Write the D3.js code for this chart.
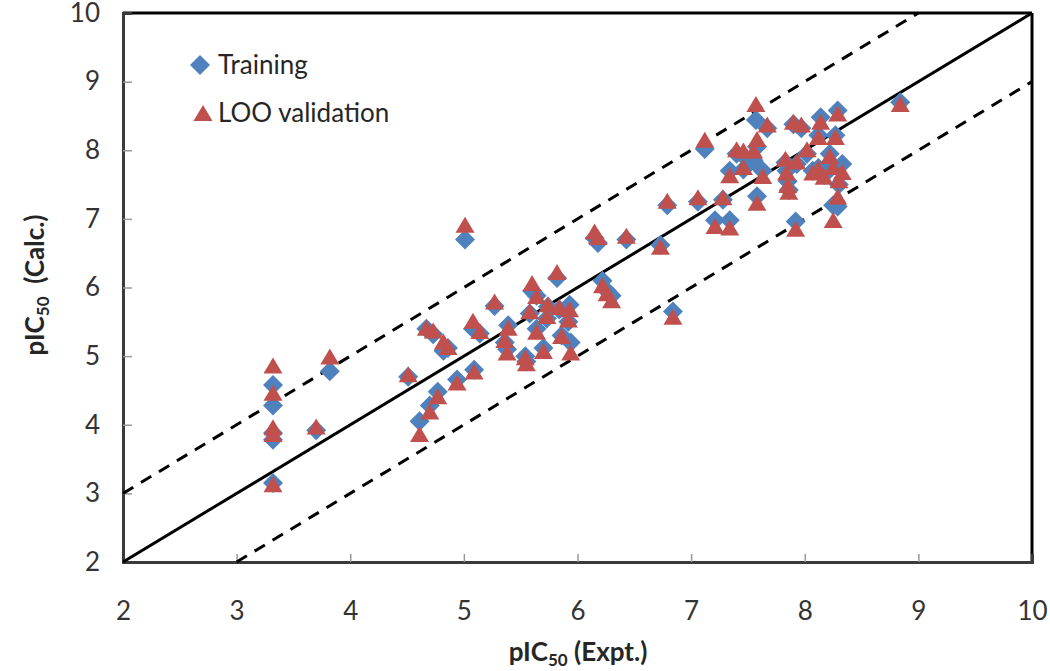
<!DOCTYPE html>
<html><head><meta charset="utf-8">
<script src="https://cdn.jsdelivr.net/npm/d3@7"></script>
<style>
html,body{margin:0;padding:0;background:#fff;}
svg{display:block;font-family:Lato,"Open Sans",sans-serif;}
</style></head>
<body><svg id="chart" width="1050" height="671"></svg>
<script>
// Experimental pIC50 per compound
const expt = [3.32,3.32,3.32,3.32,3.32,3.70,3.82,4.51,4.61,4.70,4.77,4.94,5.09,4.67,4.73,4.82,4.86,5.01,5.08,5.14,
5.27,5.39,5.36,5.38,5.54,5.55,5.58,5.60,5.64,5.64,5.70,5.73,5.74,5.82,5.84,5.86,5.93,5.92,5.94,6.15,
6.18,6.22,6.30,6.26,6.43,6.73,6.79,6.84,7.06,7.12,7.21,7.34,7.28,7.34,7.40,7.46,7.46,7.55,7.57,7.58,
7.67,7.63,7.58,7.83,7.84,7.85,7.86,7.90,7.97,7.92,7.93,8.02,8.14,8.12,8.07,8.12,8.17,8.22,8.29,8.27,
8.25,8.33,8.30,8.29,8.25,8.84];
// Training-set calculated pIC50
const training = [4.58,4.28,3.78,3.88,3.15,3.92,4.78,4.70,4.05,4.28,4.48,4.66,4.80,5.40,5.32,5.08,5.12,6.70,5.40,5.33,
5.73,5.45,5.20,5.10,5.00,4.92,5.62,5.95,5.88,5.40,5.12,5.55,5.72,6.14,5.68,5.30,5.75,5.50,5.20,6.72,
6.65,6.10,5.88,5.95,6.70,6.62,7.20,5.65,7.25,8.02,6.98,6.98,7.28,7.70,7.95,7.92,7.72,7.85,8.44,8.05,
8.32,7.70,7.33,7.82,7.70,7.55,7.42,8.38,8.32,6.96,7.80,7.95,8.48,8.22,7.70,7.74,7.64,7.95,8.58,8.22,
7.78,7.80,7.50,7.18,7.20,8.70];
// Leave-one-out validation pIC50
const loo = [4.85,4.45,3.95,3.85,3.12,3.96,4.98,4.72,3.85,4.18,4.40,4.60,4.76,5.40,5.36,5.20,5.12,6.90,5.50,5.35,
5.78,5.40,5.22,5.04,4.97,4.88,5.64,6.05,5.86,5.34,5.06,5.57,5.74,6.21,5.70,5.28,5.67,5.52,5.04,6.80,
6.72,6.02,5.80,5.90,6.74,6.58,7.25,5.56,7.30,8.14,6.88,6.86,7.30,7.62,8.00,7.98,7.74,7.98,8.66,8.15,
8.36,7.61,7.22,7.86,7.66,7.48,7.38,8.40,8.36,6.84,7.82,8.00,8.40,8.18,7.66,7.72,7.60,7.90,8.52,8.18,
7.74,7.67,7.55,7.31,6.97,8.66];
const ticks = [2,3,4,5,6,7,8,9,10];
const identityLine = [[2,2],[10,10]];
const upperBand = [[2,3],[9,10]];
const lowerBand = [[3,2],[10,9]];
const legendLabels = ["Training","LOO validation"];

const svg = d3.select("#chart");
const x = d3.scaleLinear().domain([2,10]).range([123,1032]);
const y = d3.scaleLinear().domain([2,10]).range([562,13]);
const blue = "#4F81BD", red = "#C0504D";

// frame: top & right
svg.append("line").attr("x1",x(2)).attr("x2",x(10)).attr("y1",y(10)).attr("y2",y(10)).attr("stroke","#000").attr("stroke-width",3);
svg.append("line").attr("x1",x(10)).attr("x2",x(10)).attr("y1",y(10)).attr("y2",y(2)).attr("stroke","#000").attr("stroke-width",3);

// axes
const xAxis = d3.axisBottom(x).tickValues(ticks).tickSize(-8).tickPadding(40).tickFormat(d3.format("d"));
const gx = svg.append("g").attr("transform",`translate(0,${y(2)})`).call(xAxis);
gx.select(".domain").attr("stroke","#3a3a3a").attr("stroke-width",3);
gx.selectAll(".tick line").attr("stroke","#999").attr("stroke-width",1.5);
gx.selectAll(".tick text").attr("font-size",26).attr("fill","#333").attr("font-family","Lato");

const yAxis = d3.axisLeft(y).tickValues(ticks).tickSize(-9).tickPadding(23).tickFormat(d3.format("d"));
const gy = svg.append("g").attr("transform",`translate(${x(2)},0)`).call(yAxis);
gy.select(".domain").attr("stroke","#3a3a3a").attr("stroke-width",3);
gy.selectAll(".tick line").attr("stroke","#999").attr("stroke-width",1.5);
gy.selectAll(".tick text").attr("font-size",26).attr("fill","#333").attr("font-family","Lato");
gy.selectAll(".tick").filter(d=>d===2||d===10).select("line").remove();
gx.selectAll(".tick").filter(d=>d===2||d===10).select("line").remove();

// reference lines
const line = d3.line().x(d=>x(d[0])).y(d=>y(d[1]));
svg.append("path").attr("d",line(identityLine)).attr("stroke","#000").attr("stroke-width",3).attr("fill","none");
svg.append("path").attr("d",line(upperBand)).attr("stroke","#000").attr("stroke-width",3).attr("stroke-dasharray","12,9").attr("fill","none");
svg.append("path").attr("d",line(lowerBand)).attr("stroke","#000").attr("stroke-width",3).attr("stroke-dasharray","12,9").attr("fill","none");

// markers
const diamond = "M0,-10L10,0L0,10L-10,0Z";
const triangle = "M0,-9L9.5,7L-9.5,7Z";
svg.append("g").selectAll("path").data(expt.map((e,i)=>[e,training[i]])).join("path")
  .attr("d",diamond).attr("fill",blue)
  .attr("transform",d=>`translate(${x(d[0])},${y(d[1])})`);
svg.append("g").selectAll("path").data(expt.map((e,i)=>[e,loo[i]])).join("path")
  .attr("d",triangle).attr("fill",red)
  .attr("transform",d=>`translate(${x(d[0])},${y(d[1])})`);

// legend
svg.append("path").attr("d",diamond).attr("fill",blue).attr("transform","translate(200,65)");
svg.append("path").attr("d",triangle).attr("fill",red).attr("transform","translate(203,114)");
svg.selectAll(".leg").data(legendLabels).join("text").attr("class","leg")
  .attr("x",218).attr("y",(d,i)=>65+i*48).attr("dy","0.35em")
  .attr("font-size",26).attr("fill","#262626").text(d=>d);

// axis titles
const xt = svg.append("text").attr("x",578).attr("y",661).attr("text-anchor","middle")
  .attr("font-size",26).attr("font-weight","bold").attr("fill","#262626");
xt.append("tspan").text("pIC");
xt.append("tspan").attr("font-size",17).attr("dy",5).text("50");
xt.append("tspan").attr("dy",-5).text(" (Expt.)");

const yt = svg.append("text").attr("transform","translate(44,285) rotate(-90)").attr("text-anchor","middle")
  .attr("font-size",26).attr("font-weight","bold").attr("fill","#262626");
yt.append("tspan").text("pIC");
yt.append("tspan").attr("font-size",17).attr("dy",5).text("50");
yt.append("tspan").attr("dy",-5).attr("xml:space","preserve").text("  (Calc.)");
</script></body></html>
